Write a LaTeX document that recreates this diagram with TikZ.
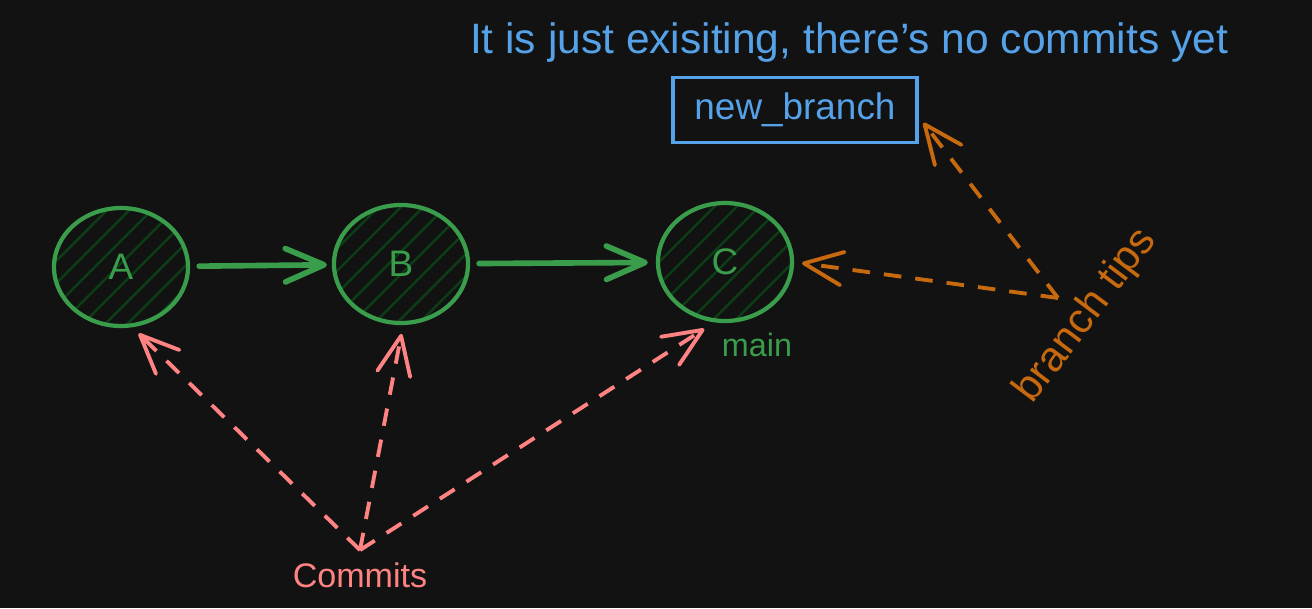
\documentclass[tikz,border=0pt]{standalone}
\usepackage{fontspec}
\setmainfont{Liberation Sans}
\usetikzlibrary{arrows.meta,shapes.geometric,patterns.meta}

\definecolor{bgdark}{HTML}{121212}
\definecolor{commitgreen}{HTML}{3A9D4B}
\definecolor{hatchgreen}{HTML}{0C3D17}
\definecolor{commitpink}{HTML}{FF8383}
\definecolor{tiporange}{HTML}{C7690F}
\definecolor{noteblue}{HTML}{56A2E8}

\begin{document}
\begin{tikzpicture}[
    commit/.style={ellipse, draw=commitgreen, line width=1.2pt,
        minimum width=1.34cm, minimum height=1.18cm,
        pattern={Lines[angle=45,distance=4.5pt,line width=0.7pt]},
        pattern color=hatchgreen, text=commitgreen,
        font=\fontsize{10.5}{12}\selectfont},
    parentlink/.style={commitgreen, line width=1.6pt, line cap=round,
        -{Straight Barb[length=11pt,width=9.5pt,round]}},
    commitlink/.style={commitpink, line width=1.1pt, dash pattern=on 5pt off 4pt,
        -{Straight Barb[length=11pt,width=9.5pt,round]}},
    tiplink/.style={tiporange, line width=1.1pt, dash pattern=on 5pt off 4pt,
        -{Straight Barb[length=11pt,width=9.5pt,round]}},
]
    % canvas
    \fill[bgdark] (0, 0) rectangle (13.12, 6.08);
    \useasboundingbox (0, 0) rectangle (13.12, 6.08);

    % commits
    \node[commit] (A) at (1.21, 3.41) {A};
    \node[commit] (B) at (4.01, 3.44) {B};
    \node[commit] (C) at (7.25, 3.46) {C};
    \node[text=commitgreen, font=\fontsize{9.2}{11}\selectfont] (main) at (7.57, 2.63) {main};

    % parent links
    \draw[parentlink, shorten <=0.1cm, shorten >=0.05cm] (A) -- (B);
    \draw[parentlink, shorten <=0.09cm, shorten >=0.08cm] (B) -- (C);

    % branch that has no commits
    \node[text=noteblue, font=\fontsize{12.1}{14}\selectfont] (note) at (8.49, 5.66)
        {It is just exisiting, there’s no commits yet};
    \node[draw=noteblue, line width=0.9pt, text=noteblue, minimum width=2.44cm,
        minimum height=0.65cm, font=\fontsize{10.5}{12}\selectfont] (newbranch) at (7.95, 4.98) {new\_branch};

    % labels with arrows
    \node[text=commitpink, font=\fontsize{9.7}{12}\selectfont] (commits) at (3.60, 0.33) {Commits};
    \draw[commitlink, shorten >=0.1cm] (commits.north) -- (A.-80);
    \draw[commitlink, shorten >=0.09cm] (commits.north) -- (B.-88);
    \draw[commitlink, shorten >=0.12cm] (commits.north) -- (C.-100);

    \node[text=tiporange, rotate=53, font=\fontsize{12}{14}\selectfont] (tips) at (10.86, 2.92) {branch tips};
    \coordinate (tipsrc) at (10.58, 3.10);
    \draw[tiplink, shorten >=0.08cm] (tipsrc) -- (C.east);
    \draw[tiplink, shorten >=0.08cm] (tipsrc) -- (newbranch.-3);
\end{tikzpicture}
\end{document}
